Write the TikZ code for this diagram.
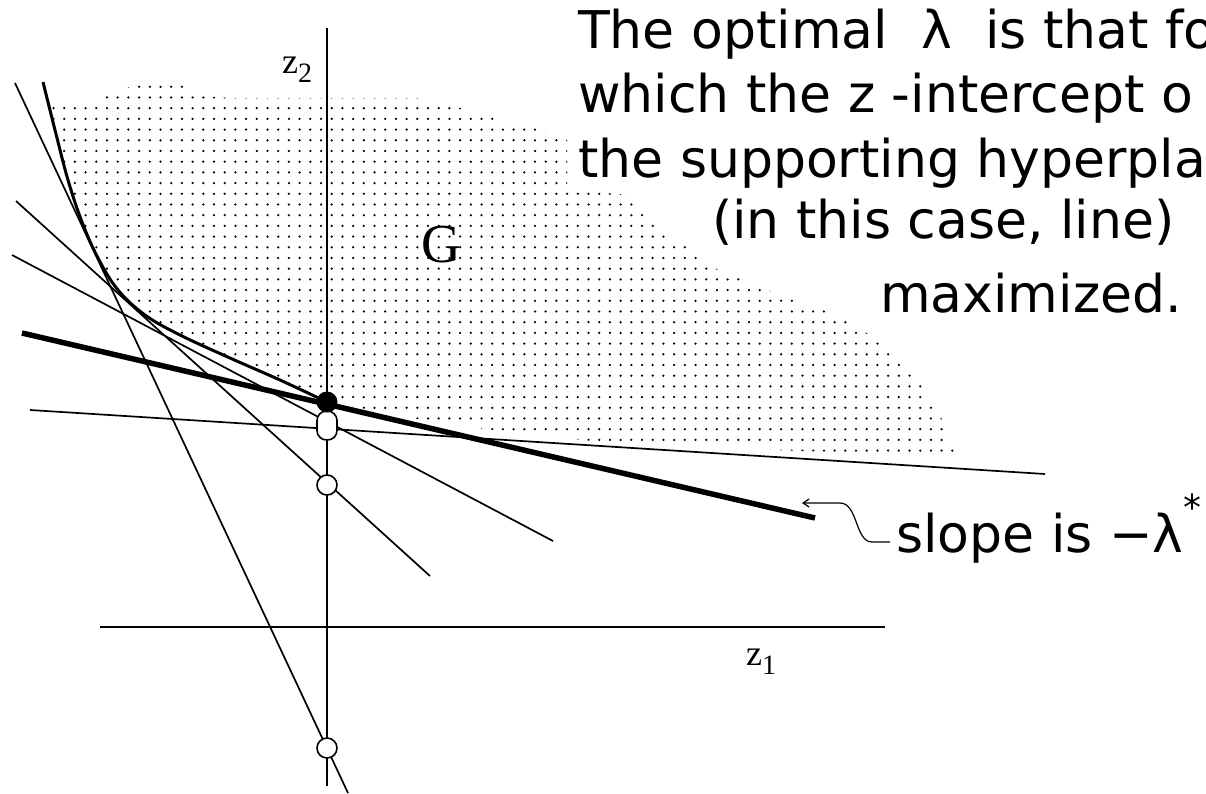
\documentclass[tikz,border=0pt]{standalone}
\usepackage{fontspec}
\newfontfamily\gen{DejaVu Sans}
\newfontfamily\ser{Liberation Serif}
\usetikzlibrary{patterns,arrows.meta}
\pgfdeclarepatternformonly{bigdots}{\pgfqpoint{-2pt}{-2pt}}{\pgfqpoint{2pt}{2pt}}{\pgfqpoint{10.7pt}{10.7pt}}{%
  \pgfpathcircle{\pgfqpoint{0pt}{0pt}}{1.25pt}\pgfusepath{fill}}
\begin{document}
\begin{tikzpicture}[x=1pt,y=-1pt,
  thinln/.style={line width=1.7pt},
  axisln/.style={line width=2pt},
  thickln/.style={line width=5.5pt},
  bdry/.style={line width=3pt},
  opencirc/.style={circle,draw,line width=1.6pt,fill=white,minimum size=20pt,inner sep=0pt},
  stadium/.style={rectangle,rounded corners=9.5pt,draw,line width=1.6pt,fill=white,minimum width=20pt,minimum height=29pt,inner sep=0pt},
  dotcirc/.style={circle,fill=black,minimum size=21pt,inner sep=0pt},
  txt/.style={font=\gen\fontsize{52}{60}\selectfont, anchor=base west, inner sep=0pt},
  serlab/.style={font=\ser\fontsize{36}{36}\selectfont, inner sep=0pt},
]
\useasboundingbox (0,0) rectangle (1206,793);
\clip (0,0) rectangle (1206,793);

% dotted region G
\fill[pattern=bigdots]
  (43,100) -- (100,99) -- (108,94) -- (118,89) -- (150,84) -- (180,84) -- (190,90) -- (198,96)
  -- (230,98) -- (420,98) -- (460,108) -- (503,120) -- (547,131) -- (567,140) -- (567,190)
  -- (632,195) -- (645,212) -- (663,227) -- (673,238) -- (695,253) -- (707,265) -- (760,287)
  -- (803,303) -- (833,313) -- (887,345) -- (920,382) -- (940,415) -- (952,443) -- (956,455)
  -- (800,451) -- (600,442) -- (450,425) -- (327,402) -- (280,380) -- (230,358) -- (180,335)
  -- (145,315) -- (118,290) -- (98,258) -- (82,222) -- (68,180) -- (55,130) -- cycle;

% axes
\coordinate (z2top) at (327,28);
\coordinate (z2bot) at (327,786);
\coordinate (z1l) at (100,627);
\coordinate (z1r) at (885,627);
\draw[axisln] (z2top) -- (z2bot);
\draw[axisln] (z1l) -- (z1r);

% lines
\coordinate (a1) at (15,83);    \coordinate (b1) at (348,793);
\coordinate (a2) at (16,201);   \coordinate (b2) at (430,576);
\coordinate (a3) at (12,255);   \coordinate (b3) at (553,541);
\coordinate (a4) at (30,410);   \coordinate (b4) at (1045,474);
\coordinate (a5) at (22,333);   \coordinate (b5) at (815,518);
\draw[thinln] (a1) -- (b1);
\draw[thinln] (a2) -- (b2);
\draw[thinln] (a3) -- (b3);
\draw[thinln] (a4) -- (b4);
\draw[thickln] (a5) -- (b5);

% boundary curve of G
\draw[bdry] plot[smooth, tension=0.6] coordinates {(43,82) (55,130) (68,180) (82,222) (98,258) (118,290) (145,315) (180,335) (230,358) (280,380) (327,402)};

% intercept circles
\node[stadium] (c12) at (327,425.5) {};
\node[opencirc] (c3) at (327,485) {};
\node[opencirc] (c4) at (327,748) {};
\node[dotcirc] (opt) at (327,402) {};

% labels
\node[serlab, anchor=base west] (lz2) at (282,73) {z\raisebox{-0.25em}{\fontsize{28}{28}\selectfont 2}};
\node[serlab, anchor=base west] (lz1) at (746,665) {z\raisebox{-0.25em}{\fontsize{28}{28}\selectfont 1}};
\node[font=\ser\fontsize{55}{55}\selectfont, inner sep=0pt] (G) at (441,245) {G};

% text block
\node[txt] (t1) at (578,48) {The optimal\ \ λ\ \ is that fo};
\node[txt] (t2) at (578,112) {which the z -intercept o};
\node[txt] (t3) at (578,177) {the supporting hyperplan};
\node[txt] (t4) at (712,238) {(in this case, line)};
\node[txt] (t5) at (880,312) {maximized.};

% slope label and connector
\node[txt] (slope) at (896,552) {slope is −λ\raisebox{0.6em}{\fontsize{36}{36}\selectfont *}};
\coordinate (tip) at (802,503);
\coordinate (hookend) at (890,542);
\draw[line width=1.2pt, {Straight Barb[length=6pt,width=8pt]}-] (tip) -- (840,503) .. controls (858,503) and (855,542) .. (872,542) -- (hookend);
\end{tikzpicture}
\end{document}
